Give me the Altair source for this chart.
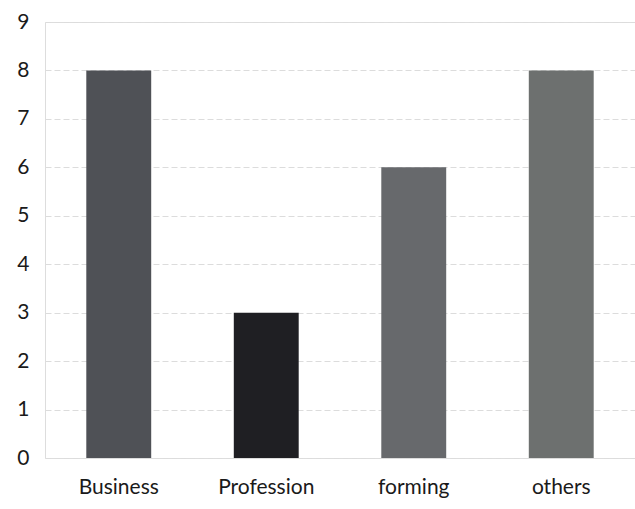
import altair as alt
import pandas as pd

categories = ["Business", "Profession", "forming", "others"]
values = [8, 3, 6, 8]
colors = ["#4f5156", "#1f1f23", "#67696c", "#6d706f"]

df = pd.DataFrame({"category": categories, "value": values})

chart = alt.Chart(df).mark_bar().encode(
    x=alt.X("category:N", sort=categories, title=None,
            scale=alt.Scale(paddingInner=0.56, paddingOuter=0.28),
            axis=alt.Axis(labelAngle=0, labelFont="Lato", labelFontSize=21,
                          labelColor="#1a1a1a", labelPadding=18, ticks=False,
                          domain=False, grid=False)),
    y=alt.Y("value:Q", title=None,
            scale=alt.Scale(domain=[0, 9], nice=False),
            axis=alt.Axis(values=list(range(10)), labelFont="Lato", labelFontSize=21,
                          labelColor="#1a1a1a", labelPadding=16, ticks=False,
                          domain=False, grid=True, gridColor="#dcdcdc",
                          gridDash=[6, 3], gridWidth=1)),
    color=alt.Color("category:N", sort=categories,
                    scale=alt.Scale(domain=categories, range=colors), legend=None),
).properties(
    width=590, height=436,
    padding={"left": 45, "top": 22, "right": 0, "bottom": 51},
    autosize=alt.AutoSizeParams(type="none"),
).configure_view(stroke=None).configure(background="white")

chart.save("out.html", embed_options={"renderer": "svg", "actions": False})
